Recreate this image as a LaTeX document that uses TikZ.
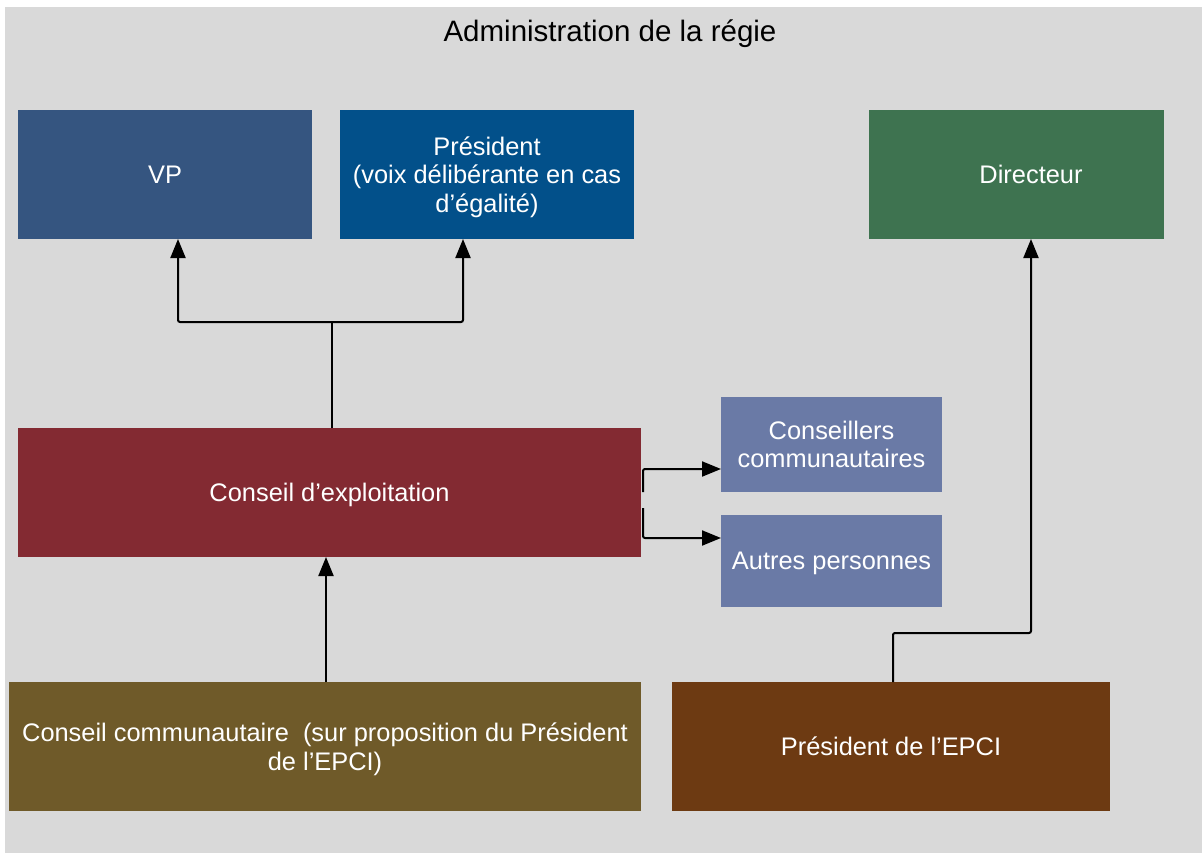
\documentclass[tikz,border=0pt]{standalone}
\usepackage{fontspec}
\setmainfont{Liberation Sans}
\usetikzlibrary{arrows.meta}
\definecolor{bg}{HTML}{D9D9D9}
\definecolor{cvp}{HTML}{355580}
\definecolor{cpres}{HTML}{02508A}
\definecolor{cdir}{HTML}{3E7350}
\definecolor{cexpl}{HTML}{832A32}
\definecolor{ccons}{HTML}{6A7AA6}
\definecolor{ccomm}{HTML}{6F5A29}
\definecolor{cepci}{HTML}{6D3A12}
\tikzset{
  box/.style={inner sep=0pt, outer sep=0pt, text=white, align=center,
    text depth=0pt, font=\fontsize{25.4}{28.5}\selectfont},
  conn/.style={line width=2pt, draw=black, rounded corners=2pt},
  arr/.style={conn, -{Triangle[width=15pt,length=19pt]}},
}
\begin{document}
\begin{tikzpicture}[x=1pt,y=-1pt]
\useasboundingbox (0,0) rectangle (1202,853);
\fill[bg] (5,7) rectangle (1202,853);
\node[font=\fontsize{29.5}{32}\selectfont] (title) at (610,34) {Administration de la régie};
\node[box, fill=cvp, minimum width=294pt, minimum height=129pt] (vp) at (165,174.5) {VP};
\node[box, fill=cpres, minimum width=294pt, minimum height=129pt] (pres) at (487,174.5) {Président\\(voix délibérante en cas\\d’égalité)};
\node[box, fill=cdir, minimum width=295pt, minimum height=129pt] (dir) at (1016.5,174.5) {\hspace*{29pt}Directeur};
\node[box, fill=cexpl, minimum width=623pt, minimum height=129pt] (expl) at (329.5,492.5) {Conseil d’exploitation};
\node[box, fill=ccons, minimum width=221pt, minimum height=95pt] (cons) at (831.5,444.5) {Conseillers\\communautaires};
\node[box, fill=ccons, minimum width=221pt, minimum height=92pt] (autres) at (831.5,561) {Autres personnes};
\node[box, fill=ccomm, minimum width=632pt, minimum height=129pt] (comm) at (325,746.5) {Conseil communautaire\ \ (sur proposition du Président\\de l’EPCI)};
\node[box, fill=cepci, minimum width=438pt, minimum height=129pt] (epci) at (891,746.5) {Président de l’EPCI};
% connectors
\coordinate (j) at (332,322);
\draw[conn] (332,0 |- expl.north) -- (j);
\draw[arr] (j) -| (178,0 |- vp.south);
\draw[arr] (j) -| (463,0 |- pres.south);
\draw[arr] (643,492) |- (cons.west |- 0,469);
\draw[arr] (643,508) |- (autres.west |- 0,538);
\draw[arr] (326,0 |- comm.north) -- (326,0 |- expl.south);
\coordinate (k) at (893,633);
\draw[arr] (893,0 |- epci.north) -- (k) -| (1031,0 |- dir.south);
\end{tikzpicture}
\end{document}
